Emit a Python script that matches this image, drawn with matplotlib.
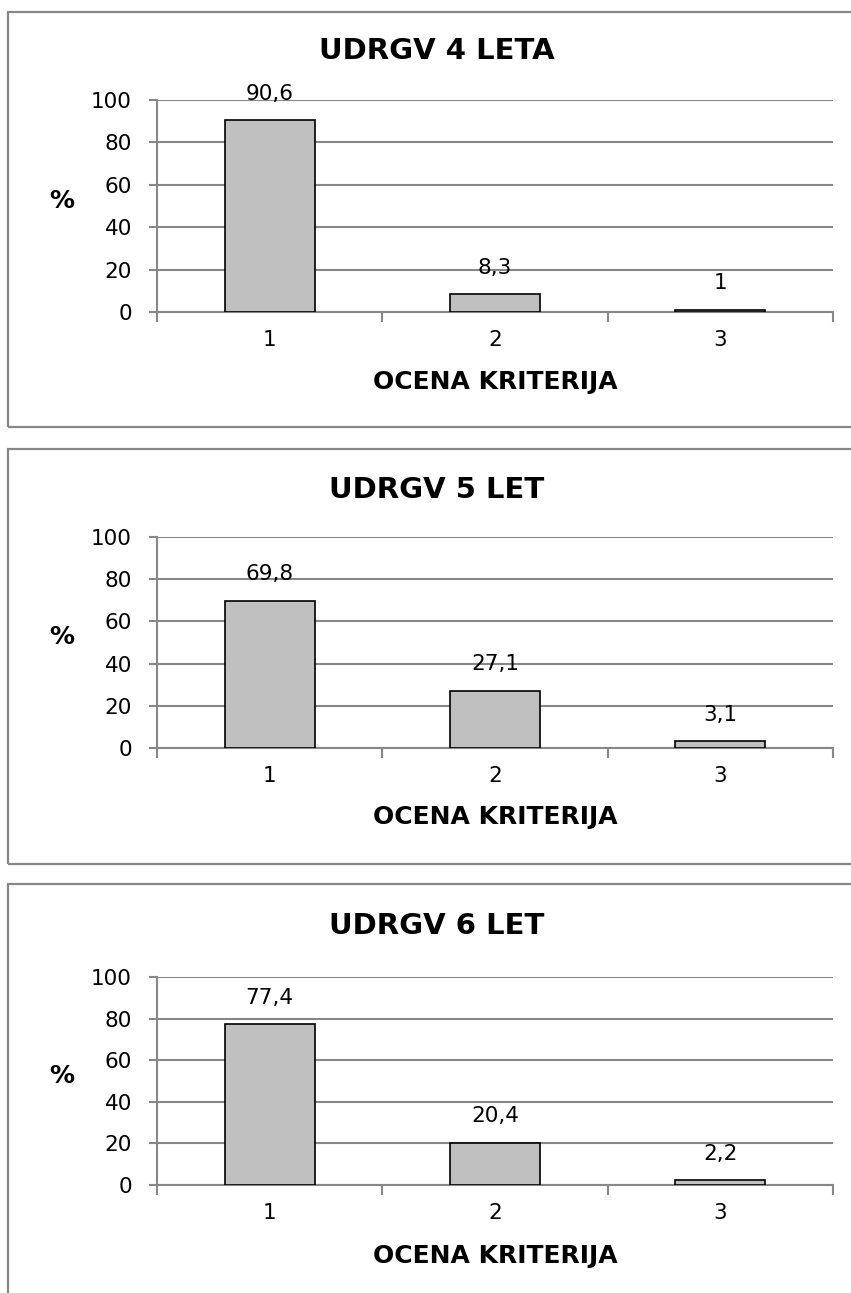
import matplotlib.pyplot as plt
from matplotlib.patches import Rectangle

# data
categories = [1, 2, 3]
titles = ["UDRGV 4 LETA", "UDRGV 5 LET", "UDRGV 6 LET"]
values_4 = [90.6, 8.3, 1.0]
values_5 = [69.8, 27.1, 3.1]
values_6 = [77.4, 20.4, 2.2]
labels_4 = ["90,6", "8,3", "1"]
labels_5 = ["69,8", "27,1", "3,1"]
labels_6 = ["77,4", "20,4", "2,2"]
yticks = [0, 20, 40, 60, 80, 100]

W, H = 851, 1293
GRAY = "#878787"
FONT = "DejaVu Sans"

fig = plt.figure(figsize=(W / 100, H / 100), dpi=100)
fig.patch.set_facecolor("white")


def fx(px):
    return px / W


def fy(py):
    return 1 - py / H


# panel layout in pixels: (border top, border bottom, y of 100, y of 0, title y, xlabel y)
panels = [
    (12, 427, 100, 312, 51, 382),
    (449, 864, 537, 748, 490, 817),
    (884, 1310, 977, 1185, 926, 1256),
]
series = [(values_4, labels_4), (values_5, labels_5), (values_6, labels_6)]

ax_left, ax_right = 157, 833

for (top, bot, y100, y0, ty, xly), title, (vals, labs) in zip(panels, titles, series):
    # outer frame of each chart
    fig.patches.append(Rectangle((fx(8), fy(bot)), fx(900 - 8), fy(top) - fy(bot),
                                 transform=fig.transFigure, fill=False,
                                 edgecolor=GRAY, linewidth=1.6, zorder=0))

    ax = fig.add_axes([fx(ax_left), fy(y0), fx(ax_right - ax_left), fy(y100) - fy(y0)])
    ax.bar(categories, vals, width=0.4, color="#c0c0c0", edgecolor="black",
           linewidth=1.2, zorder=3)
    for x, v, lab in zip(categories, vals, labs):
        ax.annotate(lab, xy=(x, v), xytext=(0, 19), textcoords="offset points",
                    ha="center", va="center", fontsize=15.5, family=FONT, zorder=4)

    ax.set_xlim(0.5, 3.5)
    ax.set_ylim(0, 100)
    ax.set_yticks(yticks)
    ax.set_yticklabels([str(t) for t in yticks], fontsize=15.5, family=FONT)
    ax.yaxis.grid(True, color=GRAY, linewidth=1.5, zorder=0)
    ax.set_axisbelow(True)

    ax.set_xticks(categories)
    ax.set_xticklabels([str(c) for c in categories], fontsize=15.5, family=FONT)
    ax.set_xticks([0.5, 1.5, 2.5, 3.5], minor=True)
    ax.tick_params(axis="x", which="major", length=0, pad=13)
    ax.tick_params(axis="x", which="minor", length=7, width=1.5, color=GRAY, direction="out")
    ax.tick_params(axis="y", length=6, width=1.5, color=GRAY, pad=12)

    for s in ["top", "right"]:
        ax.spines[s].set_visible(False)
    for s in ["left", "bottom"]:
        ax.spines[s].set_color(GRAY)
        ax.spines[s].set_linewidth(1.5)

    fig.text(fx(437), fy(ty), title, ha="center", va="center",
             fontsize=21, fontweight="bold", family=FONT)
    fig.text(fx((ax_left + ax_right) / 2), fy(xly), "OCENA KRITERIJA", ha="center",
             va="center", fontsize=18, fontweight="bold", family=FONT)
    fig.text(fx(62), fy((y100 + y0) / 2 - 5), "%", ha="center", va="center",
             fontsize=18, fontweight="bold", family=FONT)

fig.savefig("out.png", dpi=100, facecolor="white")
